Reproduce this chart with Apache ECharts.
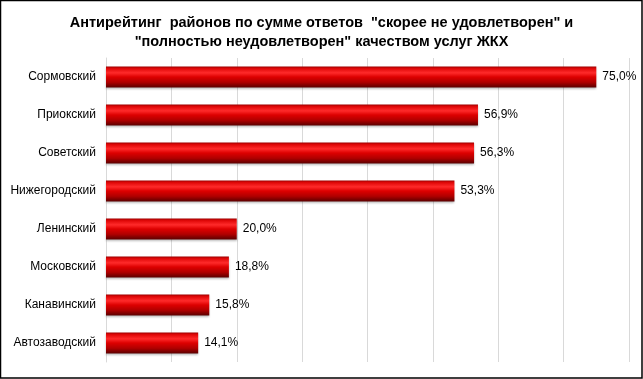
<!DOCTYPE html>
<html><head><meta charset="utf-8">
<script src="https://cdn.jsdelivr.net/npm/echarts@6/dist/echarts.min.js"></script>
<style>html,body{margin:0;padding:0;background:#fff}#c{width:643px;height:379px}</style>
</head><body><div id="c"></div>
<script>
const categories = ['Сормовский','Приокский','Советский','Нижегородский','Ленинский','Московский','Канавинский','Автозаводский'];
const values = [75.0, 56.9, 56.3, 53.3, 20.0, 18.8, 15.8, 14.1];
const titleText = 'Антирейтинг  районов по сумме ответов  "скорее не удовлетворен" и\n"полностью неудовлетворен" качеством услуг ЖКХ';

const chart = echarts.init(document.getElementById('c'), null, {renderer:'canvas'});
const barColor = new echarts.graphic.LinearGradient(0,0,0,1,[
  {offset:0, color:'#a00000'},
  {offset:0.1, color:'#e00808'},
  {offset:0.3, color:'#ff2a2a'},
  {offset:0.5, color:'#dd0000'},
  {offset:0.75, color:'#b00000'},
  {offset:1, color:'#5a0000'}
]);
chart.setOption({
  animation:false,
  title:{text:titleText,left:'center',top:8,textStyle:{fontFamily:'Liberation Sans, Arial',fontWeight:'bold',fontSize:14.5,lineHeight:19,color:'#000'}},
  grid:{left:106,right:14,top:58,bottom:17},
  xAxis:{type:'value',min:0,max:80,interval:10,axisLabel:{show:false},axisLine:{show:false},axisTick:{show:false},
    splitLine:{show:true,lineStyle:{color:'#d9d9d9',width:1}}},
  yAxis:{type:'category',inverse:true,data:categories,axisTick:{show:false},
    axisLine:{show:true,lineStyle:{color:'#d9d9d9'}},
    axisLabel:{color:'#000',fontFamily:'Liberation Sans, Arial',fontSize:12,margin:10}},
  series:[{type:'bar',data:values,barWidth:21,
    itemStyle:{color:barColor,shadowColor:'rgba(0,0,0,0.25)',shadowBlur:2,shadowOffsetY:1},
    label:{show:true,position:'right',distance:6,color:'#000',fontFamily:'Liberation Sans, Arial',fontSize:12,
      formatter:p=>p.value.toFixed(1).replace('.',',')+'%'}}],
  graphic:[{type:'rect',shape:{x:0.5,y:0.5,width:641.5,height:377.5},style:{fill:'none',stroke:'#000',lineWidth:1.5},z:100}]
});
</script></body></html>
